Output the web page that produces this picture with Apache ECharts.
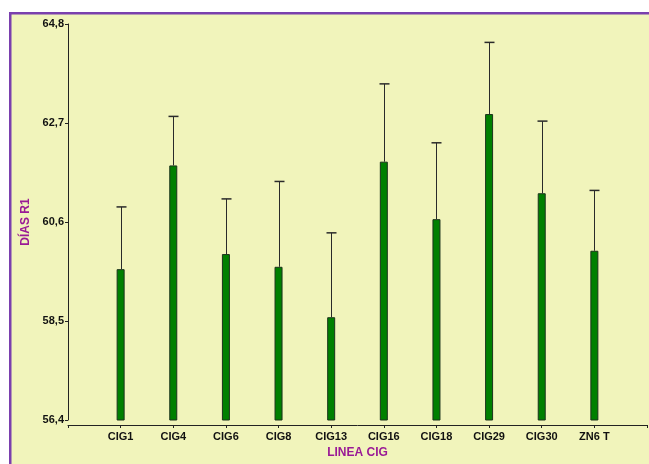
<!DOCTYPE html>
<html>
<head>
<meta charset="utf-8">
<script src="https://cdn.jsdelivr.net/npm/echarts@6/dist/echarts.min.js"></script>
<style>
  html, body { margin: 0; padding: 0; background: #fff; }
  #chart { width: 649px; height: 464px; }
</style>
</head>
<body>
<div id="chart"></div>
<script>
(function () {

    // lineas
    var lineas = ['CIG1', 'CIG4', 'CIG6', 'CIG8', 'CIG13', 'CIG16', 'CIG18', 'CIG29', 'CIG30', 'ZN6 T'];
    // media dias R1
    var medias = [59.60, 61.80, 59.92, 59.65, 58.58, 61.88, 60.66, 62.89, 61.21, 59.99];
    // media + error
    var limSup = [60.92, 62.84, 61.09, 61.46, 60.37, 63.53, 62.28, 64.41, 62.74, 61.27];
    // ticks eje y
    var ticksY = [56.4, 58.5, 60.6, 62.7, 64.8];

    var fuente = "'Liberation Sans Narrow', 'Liberation Sans', Arial, sans-serif";
    var morado = '#9a1a96';

    // categorias con hueco al principio y al final
    var cats = [''].concat(lineas).concat(['']);
    var barData = [null].concat(medias).concat([null]);
    var errData = [];
    for (let i = 0; i < lineas.length; i++) {
        errData.push([i + 1, medias[i], limSup[i]]);
    }

    let chart = echarts.init(document.getElementById('chart'));

    var option = {
        backgroundColor: '#ffffff',
        animation: false,
        graphic: [
            {
                type: 'rect',
                z: -10,
                shape: {x: 9, y: 12, width: 640, height: 452},
                style: {fill: '#f1f4bb'}
            },
            {
                type: 'rect',
                z: -9,
                shape: {x: 9, y: 12, width: 640, height: 2.5},
                style: {fill: '#7a3fae'}
            },
            {
                type: 'rect',
                z: -9,
                shape: {x: 9, y: 12, width: 2.5, height: 452},
                style: {fill: '#7a3fae'}
            }
        ],
        grid: {
            left: 68,
            right: 2,
            top: 24,
            bottom: 44,
            outerBoundsMode: 'none',
            containLabel: false
        },
        xAxis: {
            type: 'category',
            data: cats,
            boundaryGap: false,
            offset: 5,
            name: 'LINEA CIG',
            nameLocation: 'middle',
            nameGap: 22,
            nameTextStyle: {
                color: morado,
                fontWeight: 'bold',
                fontSize: 12,
                fontFamily: fuente
            },
            axisLine: {lineStyle: {color: '#222', width: 1}},
            axisTick: {show: true, length: 3, inside: false, alignWithLabel: true, lineStyle: {color: '#222'}},
            axisLabel: {
                interval: 0,
                margin: 6,
                color: '#111',
                fontWeight: 'bold',
                fontSize: 11,
                fontFamily: fuente
            },
            splitLine: {show: false}
        },
        yAxis: {
            type: 'value',
            min: 56.4,
            max: 64.8,
            name: 'DÍAS R1',
            nameLocation: 'middle',
            nameGap: 35,
            nameRotate: 90,
            nameTextStyle: {
                color: morado,
                fontWeight: 'bold',
                fontSize: 12,
                fontFamily: fuente
            },
            axisLine: {show: true, lineStyle: {color: '#222', width: 1}},
            axisTick: {show: true, length: 3, customValues: ticksY, lineStyle: {color: '#222'}},
            axisLabel: {
                customValues: ticksY,
                margin: 4,
                color: '#111',
                fontWeight: 'bold',
                fontSize: 11,
                fontFamily: fuente,
                formatter: function (v) {
                    return v.toFixed(1).replace('.', ',');
                }
            },
            splitLine: {show: false}
        },
        series: [
            {
                type: 'bar',
                data: barData,
                barWidth: 8,
                itemStyle: {
                    color: '#008000',
                    borderColor: '#1c331c',
                    borderWidth: 1
                },
                z: 3
            },
            {
                type: 'custom',
                data: errData,
                z: 2,
                renderItem: function (params, api) {
                    let x = api.value(0);
                    let p0 = api.coord([x, api.value(1)]);
                    let p1 = api.coord([x, api.value(2)]);
                    let cx = Math.round(p0[0]) + 0.5;
                    return {
                        type: 'group',
                        children: [
                            {
                                type: 'line',
                                shape: {x1: cx, y1: p0[1], x2: cx, y2: p1[1]},
                                style: {stroke: '#2a2a2a', lineWidth: 1}
                            },
                            {
                                type: 'line',
                                shape: {x1: cx - 5, y1: p1[1], x2: cx + 5, y2: p1[1]},
                                style: {stroke: '#2a2a2a', lineWidth: 1.5}
                            }
                        ]
                    };
                }
            }
        ]
    };

    chart.setOption(option);
})();
</script>
</body>
</html>
